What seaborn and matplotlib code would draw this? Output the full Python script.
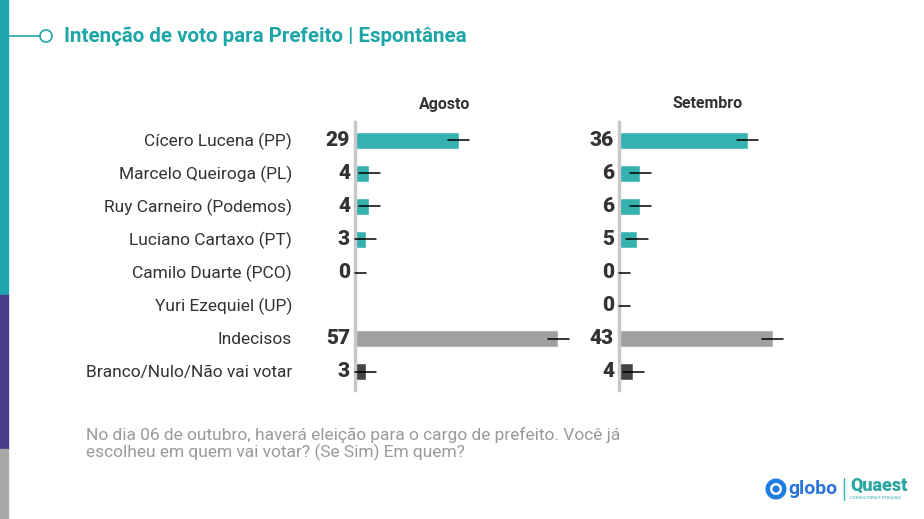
import matplotlib
matplotlib.use("Agg")
import matplotlib.pyplot as plt
import seaborn as sns
import numpy as np
import pandas as pd
from matplotlib.patches import Rectangle, Ellipse
from matplotlib.lines import Line2D

categories = ["Cícero Lucena (PP)", "Marcelo Queiroga (PL)", "Ruy Carneiro (Podemos)",
              "Luciano Cartaxo (PT)", "Camilo Duarte (PCO)", "Yuri Ezequiel (UP)",
              "Indecisos", "Branco/Nulo/Não vai votar"]
agosto = [29, 4, 4, 3, 0, np.nan, 57, 3]
setembro = [36, 6, 6, 5, 0, 0, 43, 4]
margem = [3, 3, 3, 3, 3, 3, 3, 3]
panels = ["Agosto", "Setembro"]
title = "Intenção de voto para Prefeito | Espontânea"
footnote = "No dia 06 de outubro, haverá eleição para o cargo de prefeito. Você já\nescolheu em quem vai votar? (Se Sim) Em quem?"

TEAL = "#35b1af"
GREY = "#a0a0a0"
DARK = "#444444"
bar_colors = [TEAL] * 6 + [GREY, DARK]
TXT = "#333333"

sns.set_theme(style="white")
plt.rcParams['font.family'] = ['Roboto', 'DejaVu Sans']

W, H = 924, 519
fig = plt.figure(figsize=(W / 100, H / 100), dpi=100)
fig.patch.set_facecolor("white")

def fx(px):
    return px / W

def fy(py):
    return 1 - py / H

def circ(cx, cy, r, **kw):
    fig.add_artist(Ellipse((fx(cx), fy(cy)), 2 * r / W, 2 * r / H, transform=fig.transFigure, **kw))

# left stripe
fig.patches.append(Rectangle((0, fy(295)), fx(8), 295 / H, transform=fig.transFigure, color="#20a4ad", zorder=0))
fig.patches.append(Rectangle((0, fy(449)), fx(8), (449 - 295) / H, transform=fig.transFigure, color="#473b8a", zorder=0))
fig.patches.append(Rectangle((0, 0), fx(8), (519 - 449) / H, transform=fig.transFigure, color="#a9a9a9", zorder=0))

# title decoration
fig.add_artist(Line2D([fx(8), fx(40)], [fy(36), fy(36)], color="#20a4ad", lw=1.2, transform=fig.transFigure))
circ(46, 36, 6, facecolor="white", edgecolor="#20a4ad", lw=1.2)
fig.text(fx(64), fy(36), title, color="#1ea5a6", fontsize=14.8, fontweight="bold",
         ha="left", va="center")

# category labels
for i, c in enumerate(categories):
    fig.text(fx(292), fy(141 + 33 * i), c, ha="right", va="center", fontsize=12.5, color=TXT)

xmax = 65
axes_left = [355, 619]
for k, (name, vals) in enumerate(zip(panels, [agosto, setembro])):
    ax = fig.add_axes([fx(axes_left[k]), fy(390), fx(xmax * 3.57), 268 / H])
    df = pd.DataFrame({"cat": categories, "val": vals})
    sns.barplot(data=df, x="val", y="cat", hue="cat", palette=bar_colors, legend=False,
                orient="h", ax=ax, width=0.52, saturation=1, order=categories)
    for i, v in enumerate(vals):
        if np.isnan(v):
            continue
        lo = max(v - margem[i], 0)
        hi = v + margem[i]
        ax.plot([lo, hi], [i, i], color="black", lw=1.1, zorder=5, clip_on=False)
        ax.annotate(f"{int(v)}", xy=(0, i), xytext=(-5, 0), textcoords="offset pixels",
                    ha="right", va="center", fontsize=15, fontweight="black", color=TXT)
    ax.set_xlim(0, xmax)
    ax.set_ylim(7.56, -0.56)
    ax.set_xlabel("")
    ax.set_ylabel("")
    ax.set_xticks([])
    ax.set_yticks([])
    for s in ["top", "right", "bottom"]:
        ax.spines[s].set_visible(False)
    ax.spines["left"].set_color("#c8c8c8")
    ax.spines["left"].set_linewidth(2.5)
    ax.set_facecolor("none")

fig.text(fx(445), fy(104), "Agosto", ha="center", va="center", fontsize=11.5, fontweight="bold", color=TXT)
fig.text(fx(708), fy(104), "Setembro", ha="center", va="center", fontsize=11.5, fontweight="bold", color=TXT)

fig.text(fx(86), fy(444), footnote, ha="left", va="center", fontsize=12.5, color="#9a9a9a", linespacing=1.1)

# logo (text approximation)
circ(776, 489, 10.5, facecolor="#1f7de0", edgecolor="none")
circ(776, 489, 6, facecolor="white", edgecolor="none")
circ(776, 489, 3.5, facecolor="#1f7de0", edgecolor="none")
fig.text(fx(788), fy(489), "globo", ha="left", va="center", fontsize=14, fontweight="bold", color="#2a74d6")
fig.add_artist(Line2D([fx(844), fx(844)], [fy(478), fy(500)], color="#35b1af", lw=1, transform=fig.transFigure))
fig.text(fx(850), fy(486), "Quaest", ha="left", va="center", fontsize=13, fontweight="black", color="#2aa59f")
fig.text(fx(850), fy(498), "CONSULTORIA E PESQUISA", ha="left", va="center", fontsize=3, color="#2aa59f")

fig.savefig("out.png", dpi=100, facecolor="white")
